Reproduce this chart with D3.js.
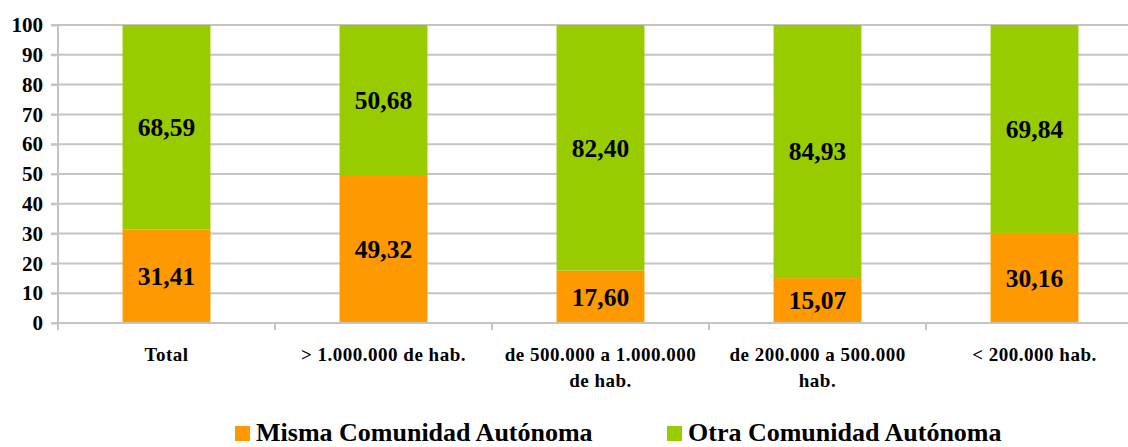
<!DOCTYPE html>
<html><head><meta charset="utf-8">
<script src="https://cdn.jsdelivr.net/npm/d3@7"></script>
<style>
html,body{margin:0;padding:0;background:#fff;}
</style></head>
<body>
<script>
const categories = ["Total", "> 1.000.000 de hab.", "de 500.000 a 1.000.000|de hab.", "de 200.000 a 500.000|hab.", "< 200.000 hab."];
const misma = [31.41, 49.32, 17.60, 15.07, 30.16];
const otra = [68.59, 50.68, 82.40, 84.93, 69.84];
const seriesNames = ["Misma Comunidad Autónoma", "Otra Comunidad Autónoma"];
const colors = ["#FF9900", "#99CC00"];
const yTicks = [0,10,20,30,40,50,60,70,80,90,100];

const W = 1128, H = 447;
const FONT = "Liberation Serif";
const svg = d3.select("body").append("svg").attr("width", W).attr("height", H)
  .style("font-family", FONT).style("font-weight", "bold");

const x = d3.scaleBand().domain(categories).range([58, 1143]).paddingInner(0.595).paddingOuter(0.2975);
const y = d3.scaleLinear().domain([0, 100]).range([323, 25]);

// gridlines
svg.append("g").selectAll("line").data(yTicks.filter(d => d > 0)).join("line")
  .attr("x1", 51).attr("x2", W).attr("y1", d => y(d)).attr("y2", d => y(d))
  .attr("stroke", "#c4c4c4").attr("stroke-width", 2);

// y axis
const yAxis = svg.append("g").attr("transform", "translate(58,0)")
  .call(d3.axisLeft(y).tickValues(yTicks).tickSize(7).tickPadding(8).tickFormat(d3.format("d")));
yAxis.attr("font-family", null).attr("font-size", null);
yAxis.select(".domain").attr("stroke", "#c4c4c4").attr("stroke-width", 2).attr("d", `M0,${y(100)}V${y(0)+7}`);
yAxis.selectAll(".tick line").attr("stroke", "#c4c4c4").attr("stroke-width", 2);
yAxis.selectAll(".tick text").style("font-size", "21px").style("font-family", FONT).attr("fill", "#000");

// stacked data
const stackData = categories.map((c, i) => ({cat: c, misma: misma[i], otra: otra[i]}));
const stack = d3.stack().keys(["misma", "otra"])(stackData);

const layers = svg.append("g").selectAll("g").data(stack).join("g").attr("fill", (d, i) => colors[i]);
layers.selectAll("rect").data(d => d).join("rect")
  .attr("x", d => x(d.data.cat)).attr("width", x.bandwidth())
  .attr("y", d => y(Math.min(d[1], 100))).attr("height", d => y(d[0]) - y(Math.min(d[1], 100)));

// x axis
const xg = svg.append("g");
xg.append("line").attr("x1", 51).attr("x2", W).attr("y1", y(0)).attr("y2", y(0)).attr("stroke", "#c4c4c4").attr("stroke-width", 2);
const step = x.step();
const start = x(categories[0]) - x.paddingOuter() * step;
const bounds = d3.range(categories.length + 1).map(i => start + i * step);
xg.selectAll("line.tk").data(bounds).join("line").attr("class", "tk")
  .attr("x1", d => d).attr("x2", d => d).attr("y1", y(0)).attr("y2", y(0) + 7)
  .attr("stroke", "#c4c4c4").attr("stroke-width", 2);

const labs = xg.selectAll("text.cat").data(categories).join("text").attr("class", "cat")
  .attr("text-anchor", "middle").style("font-size", "19px").style("letter-spacing", "0.5px").attr("fill", "#000");
labs.each(function(c) {
  const parts = c.split("|");
  const t = d3.select(this);
  parts.forEach((p, j) => {
    t.append("tspan").attr("x", x(c) + x.bandwidth() / 2).attr("y", 361 + j * 26).text(p);
  });
});

// data labels
const fmt = v => v.toFixed(2).replace(".", ",");
layers.selectAll("text").data(d => d).join("text")
  .attr("x", d => x(d.data.cat) + x.bandwidth() / 2)
  .attr("y", d => (y(d[0]) + y(d[1])) / 2)
  .attr("dy", "0.35em")
  .attr("text-anchor", "middle").style("font-size", "25.5px").attr("fill", "#000")
  .text(d => fmt(d[1] - d[0]));

// legend
const legX = [235, 667];
const leg = svg.append("g").selectAll("g").data(seriesNames).join("g")
  .attr("transform", (d, i) => `translate(${legX[i]},0)`);
leg.append("rect").attr("x", 0).attr("y", 426).attr("width", 15).attr("height", 15).attr("fill", (d, i) => colors[i]);
leg.append("text").attr("x", 21).attr("y", 441).style("font-size", "26px").attr("fill", "#000").text(d => d);
</script>
</body></html>
